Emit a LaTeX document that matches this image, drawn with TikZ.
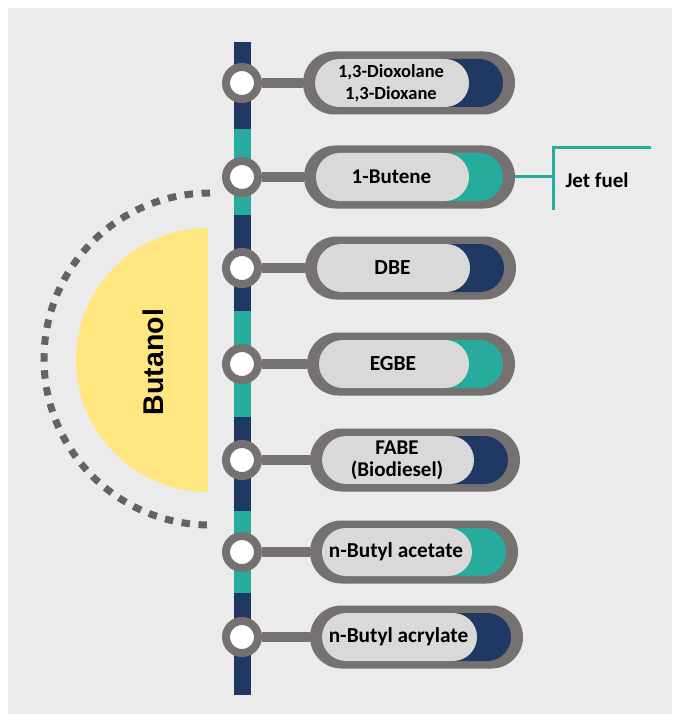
\documentclass[tikz,border=0pt]{standalone}
\usepackage{fontspec}
\setmainfont{Carlito}
\newfontfamily\arialfont{Liberation Sans}
\usetikzlibrary{positioning}
\definecolor{bggray}{HTML}{EBEBEB}
\definecolor{ring}{HTML}{767171}
\definecolor{pillin}{HTML}{D9D9D9}
\definecolor{lnavy}{HTML}{1F3864}
\definecolor{lteal}{HTML}{27AB9D}
\definecolor{sun}{HTML}{FFE680}
\definecolor{dotgray}{HTML}{636363}
\tikzset{
  stopdot/.style={circle,draw=ring,line width=8pt,fill=white,minimum size=32pt,inner sep=0pt},
  pillbox/.style={fill=ring,rounded corners=31.5pt,minimum height=63pt,inner sep=0pt},
  link/.style={draw=ring,line width=10pt},
  lbl/.style={font=\bfseries\fontsize{#1}{22}\selectfont,align=center,text=black},
  lbl/.default=21,
  jetline/.style={draw=lteal,line width=3pt},
  dotarc/.style={draw=dotgray,line width=7pt,dash pattern=on 8.5pt off 8.5pt},
}
\begin{document}
\begin{tikzpicture}[x=1pt,y=-1pt]
  % page and backdrop
  \fill[white] (0,0) rectangle (672,714);
  \fill[bggray] (8,8) rectangle (672,714);
  \useasboundingbox (0,0) rectangle (672,714);

  % butanol half disc and dotted ring
  \fill[sun] (208,228) arc[start angle=270,end angle=90,radius=132] -- cycle;
  \node[rotate=90,font=\arialfont\bfseries\fontsize{28.5}{30}\selectfont] (butanol) at (153,362) {Butanol};
  \draw[dotarc] (210,193) arc[start angle=270,end angle=90,radius=166];

  % spine
  \foreach \ya/\yb/\c in {42/129/lnavy,129/215/lteal,215/311/lnavy,311/417/lteal,417/511/lnavy,511/593/lteal,593/695/lnavy}{
    \fill[\c] (233.5,\ya) rectangle (250.5,\yb);
  }

  % stops and product pills
  \foreach \i/\y/\xa/\xb/\c/\fs/\t in {
      1/83/303/515/lnavy/18.5/{1,3-Dioxolane\\1,3-Dioxane},
      2/177/304/515/lteal/21/{1-Butene},
      3/268/305/516/lnavy/21.5/{DBE},
      4/364/307/515/lteal/21.5/{EGBE},
      5/460/310/520/lnavy/21/{FABE\\(Biodiesel)},
      6/552/310/518/lteal/21.3/{n-Butyl acetate},
      7/637/310/523/lnavy/21.3/{n-Butyl acrylate}}{
    \node[stopdot] (stop\i) at (242,\y) {};
    \node[pillbox,minimum width={(\xb-\xa)*1pt}] (pill\i) at ({(\xa+\xb)/2},\y) {};
    \fill[\c,rounded corners=24pt] (\xa+12,\y-24) rectangle (\xb-12,\y+24);
    \fill[pillin,rounded corners=24pt] (\xa+12,\y-24) rectangle (\xb-46,\y+24);
    \draw[link] (stop\i) -- (pill\i);
    \node[lbl=\fs] (txt\i) at ({(\xa+\xb)/2-18},\y) {\t};
  }

  % jet fuel bracket
  \coordinate (jet) at (553,177);
  \coordinate (jetlo) at (553,210);
  \coordinate (jethi) at (553,148);
  \coordinate (jetend) at (651,148);
  \draw[jetline] (pill2.east) -- (jet);
  \draw[jetline] (jetlo) -- (jethi) -- (jetend);
  \node[lbl=21,anchor=west] (jetfuel) at (562,180) {Jet fuel};
\end{tikzpicture}
\end{document}
